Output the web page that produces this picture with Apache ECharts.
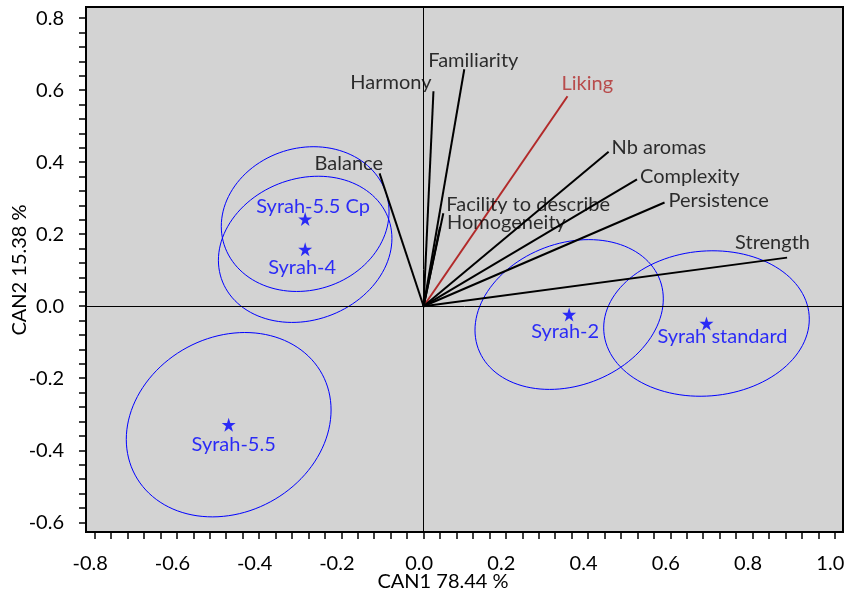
<!DOCTYPE html>
<html>
<head>
<meta charset="utf-8">
<script src="https://cdn.jsdelivr.net/npm/echarts@6/dist/echarts.min.js"></script>
<style>
html,body{margin:0;padding:0;background:#fff;}
#chart{width:845px;height:594px;}
</style>
</head>
<body>
<div id="chart"></div>
<script>
// ---- data ----
const xTickLabels = [-0.8, -0.6, -0.4, -0.2, 0.0, 0.2, 0.4, 0.6, 0.8, 1.0];
const yTickLabels = [-0.6, -0.4, -0.2, 0.0, 0.2, 0.4, 0.6, 0.8];

const varNames = ['Harmony', 'Familiarity', 'Liking', 'Nb aromas', 'Complexity', 'Persistence', 'Strength', 'Facility to describe', 'Homogeneity', 'Balance'];
const varX = [0.024, 0.099, 0.350, 0.450, 0.519, 0.586, 0.884, 0.048, 0.040, -0.107];
const varY = [0.597, 0.658, 0.583, 0.429, 0.352, 0.288, 0.135, 0.258, 0.220, 0.369];

const groupNames = ['Syrah-5.5 Cp', 'Syrah-4', 'Syrah-5.5', 'Syrah-2', 'Syrah standard'];
const groupX = [-0.288, -0.288, -0.474, 0.354, 0.688];
const groupY = [0.242, 0.158, -0.329, -0.023, -0.048];

// confidence ellipses: semi-extent along x, along y, skew
const ellRx = [0.204, 0.211, 0.249, 0.229, 0.250];
const ellRy = [0.201, 0.203, 0.256, 0.208, 0.202];
const ellSkew = [0.10, 0.15, 0.16, 0.21, 0.06];

const xTitle = 'CAN1 78.44 %';
const yTitle = 'CAN2 15.38 %';

// ---- layout / styling ----
const FONT = 'Lato';
const FS = 20;
const BLUE = '#0000ff';
const RED = '#b22a2a';

const varLabelLayout = [
  {align: 'right', off: [-2, -9]},
  {align: 'left', off: [-36, -9]},
  {align: 'left', off: [-6, -13]},
  {align: 'left', off: [3, -4]},
  {align: 'left', off: [3, -3]},
  {align: 'left', off: [4, -2]},
  {align: 'left', off: [-52, -15]},
  {align: 'left', off: [3, -9]},
  {align: 'left', off: [7, -4]},
  {align: 'left', off: [-65, -10]}
];
const groupLabelOff = [[8, -13], [-3, 18], [5, 20], [-4, 17], [16, 13]];

function ticksBetween(a, b, step) {
  const out = [];
  const n0 = Math.round(a / step), n1 = Math.round(b / step);
  for (let i = n0; i <= n1; i++) out.push(+(i * step).toFixed(2));
  return out;
}
const xMinorTicks = ticksBetween(-0.8, 1.0, 0.04);
const yMinorTicks = ticksBetween(-0.6, 0.8, 0.04);

function ellipsePoints(i) {
  const pts = [];
  const N = 120;
  for (let k = 0; k <= N; k++) {
    const t = 2 * Math.PI * k / N;
    pts.push([groupX[i] + ellRx[i] * Math.cos(t), groupY[i] + ellRy[i] * Math.sin(t + ellSkew[i])]);
  }
  return pts;
}

const series = [];

// zero lines
series.push({
  type: 'line', data: [], silent: true, z: 1,
  markLine: {
    silent: true, symbol: ['none', 'none'], label: {show: false},
    lineStyle: {color: '#000', width: 1, type: 'solid'},
    emphasis: {disabled: true},
    data: [{xAxis: 0}, {yAxis: 0}]
  }
});

// ellipses
groupNames.forEach((g, i) => {
  series.push({
    type: 'line', name: 'ell-' + g, data: ellipsePoints(i), showSymbol: false, silent: true, z: 2,
    lineStyle: {color: BLUE, width: 1}, smooth: false
  });
});

// vectors
varNames.forEach((v, i) => {
  series.push({
    type: 'line', name: v, data: [[0, 0], [varX[i], varY[i]]], showSymbol: false, silent: true, z: 3,
    lineStyle: {color: v === 'Liking' ? RED : '#000', width: 2}
  });
});

// vector labels
series.push({
  type: 'scatter', silent: true, z: 5, symbolSize: 1, itemStyle: {color: 'rgba(0,0,0,0)'},
  data: varNames.map((v, i) => ({
    value: [varX[i], varY[i]],
    label: {
      show: true, formatter: v, position: 'inside', align: varLabelLayout[i].align, verticalAlign: 'middle',
      offset: varLabelLayout[i].off, color: v === 'Liking' ? RED : '#000', fontFamily: FONT, fontSize: FS
    }
  }))
});

// group centroids (stars)
const STAR = 'path://M50,0 L61.2,34.5 L97.6,34.5 L68.2,55.9 L79.4,90.5 L50,69.1 L20.6,90.5 L31.8,55.9 L2.4,34.5 L38.8,34.5 Z';
series.push({
  type: 'scatter', silent: true, z: 6, symbol: STAR, symbolSize: 14, itemStyle: {color: BLUE},
  data: groupNames.map((g, i) => ({
    value: [groupX[i], groupY[i]],
    label: {
      show: true, formatter: g, position: 'inside', align: 'center', verticalAlign: 'middle',
      offset: groupLabelOff[i], color: BLUE, fontFamily: FONT, fontSize: FS
    }
  }))
});

const chart = echarts.init(document.getElementById('chart'), null, {renderer: 'canvas'});
chart.setOption({
  animation: false,
  backgroundColor: '#ffffff',
  grid: {
    left: 86, top: 7, width: 757, height: 525, show: true, containLabel: false, outerBoundsMode: 'none',
    backgroundColor: '#d3d3d3', borderColor: '#000', borderWidth: 2
  },
  xAxis: {
    type: 'value', min: -0.821, max: 1.02,
    axisLine: {show: false, onZero: false},
    splitLine: {show: false},
    axisTick: {show: true, customValues: xMinorTicks, length: 7, lineStyle: {color: '#000', width: 1.5}},
    axisLabel: {
      customValues: xTickLabels, margin: 22, color: '#000', fontFamily: FONT, fontSize: FS,
      formatter: v => (+v).toFixed(1), padding: [0, 9, 0, 0]
    }
  },
  yAxis: {
    type: 'value', min: -0.627, max: 0.831,
    axisLine: {show: false, onZero: false},
    splitLine: {show: false},
    axisTick: {show: true, customValues: yMinorTicks, length: 7, lineStyle: {color: '#000', width: 1.5}},
    axisLabel: {
      customValues: yTickLabels, margin: 22, color: '#000', fontFamily: FONT, fontSize: FS,
      formatter: v => (+v).toFixed(1), padding: [8, 0, 0, 0]
    }
  },
  graphic: [
    {type: 'text', x: 443, y: 582, style: {text: xTitle, fontFamily: FONT, fontSize: FS, fill: '#000', align: 'center', verticalAlign: 'middle'}},
    {type: 'text', x: 20, y: 270, rotation: Math.PI / 2, style: {text: yTitle, fontFamily: FONT, fontSize: FS, fill: '#000', align: 'center', verticalAlign: 'middle'}}
  ],
  series: series
});
</script>
</body>
</html>
